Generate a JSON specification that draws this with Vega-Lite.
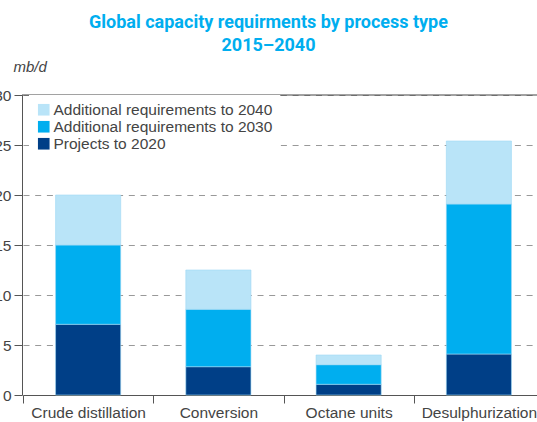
{
  "$schema": "https://vega.github.io/schema/vega-lite/v6.json",
  "width": 515,
  "height": 300,
  "autosize": "none",
  "padding": {"left": 22, "top": 95, "right": 0, "bottom": 27},
  "background": "white",
  "title": {
    "text": ["Global capacity requirments by process type", "2015–2040"],
    "font": "Roboto",
    "fontSize": 18,
    "fontWeight": "bold",
    "color": "#00AEEF",
    "anchor": "middle",
    "dx": -11,
    "lineHeight": 23
  },
  "config": {
    "view": {"stroke": null},
    "font": "Liberation Sans",
    "axis": {
      "labelFont": "Liberation Sans",
      "labelFontSize": 15.5,
      "labelColor": "#444444",
      "domainColor": "#555555",
      "tickColor": "#555555",
      "domainWidth": 1,
      "tickWidth": 1
    }
  },
  "data": {
    "values": [
      {"process": "Crude distillation", "series": "Projects to 2020", "k": 1, "value": 7.07},
      {"process": "Crude distillation", "series": "Additional requirements to 2030", "k": 2, "value": 7.93},
      {"process": "Crude distillation", "series": "Additional requirements to 2040", "k": 3, "value": 5.0},
      {"process": "Conversion", "series": "Projects to 2020", "k": 1, "value": 2.83},
      {"process": "Conversion", "series": "Additional requirements to 2030", "k": 2, "value": 5.74},
      {"process": "Conversion", "series": "Additional requirements to 2040", "k": 3, "value": 3.93},
      {"process": "Octane units", "series": "Projects to 2020", "k": 1, "value": 1.07},
      {"process": "Octane units", "series": "Additional requirements to 2030", "k": 2, "value": 1.96},
      {"process": "Octane units", "series": "Additional requirements to 2040", "k": 3, "value": 0.97},
      {"process": "Desulphurization", "series": "Projects to 2020", "k": 1, "value": 4.1},
      {"process": "Desulphurization", "series": "Additional requirements to 2030", "k": 2, "value": 15.0},
      {"process": "Desulphurization", "series": "Additional requirements to 2040", "k": 3, "value": 6.3}
    ]
  },
  "layer": [
    {
      "mark": {"type": "bar", "width": {"band": 0.5}, "stroke": "#9ed8f5", "strokeWidth": 0.6},
      "encoding": {
        "x": {
          "field": "process",
          "type": "nominal",
          "sort": null,
          "scale": {"paddingInner": 0, "paddingOuter": 0, "range": [1, 522]},
          "axis": {
            "title": null,
            "labelAngle": 0,
            "tickBand": "extent",
            "tickSize": 8,
            "labelPadding": 2,
            "grid": false
          }
        },
        "y": {
          "field": "value",
          "type": "quantitative",
          "stack": "zero",
          "scale": {"domain": [0, 30], "nice": false},
          "axis": {
            "values": [0, 5, 10, 15, 20, 25, 30],
            "title": "mb/d",
            "titleAngle": 0,
            "titleX": -9,
            "titleY": -29,
            "titleAlign": "left",
            "titleBaseline": "middle",
            "titleFont": "Liberation Sans",
            "titleFontSize": 15,
            "titleFontStyle": "italic",
            "titleFontWeight": "normal",
            "titleColor": "#444444",
            "tickSize": 8,
            "labelPadding": 3,
            "grid": true,
            "gridColor": "#999999",
            "gridDash": [6, 5.7],
            "gridWidth": 1
          }
        },
        "color": {
          "field": "series",
          "type": "nominal",
          "scale": {
            "domain": ["Additional requirements to 2040", "Additional requirements to 2030", "Projects to 2020"],
            "range": ["#B9E4F8", "#00AEEF", "#003F87"]
          },
          "legend": {
            "title": null,
            "orient": "none",
            "legendX": 7,
            "legendY": 0,
            "padding": 7,
            "fillColor": "white",
            "strokeColor": null,
            "symbolType": "square",
            "symbolSize": 135,
            "symbolStrokeWidth": 0,
            "labelFont": "Liberation Sans",
            "labelFontSize": 15.5,
            "labelColor": "#444444",
            "labelLimit": 400,
            "labelOffset": 2,
            "rowPadding": -3
          }
        },
        "order": {"field": "k", "type": "quantitative"}
      }
    },
    {
      "data": {"values": [{"top": 30}]},
      "mark": {"type": "rule", "color": "#444444", "strokeWidth": 1},
      "encoding": {"y": {"field": "top", "type": "quantitative"}}
    }
  ]
}
